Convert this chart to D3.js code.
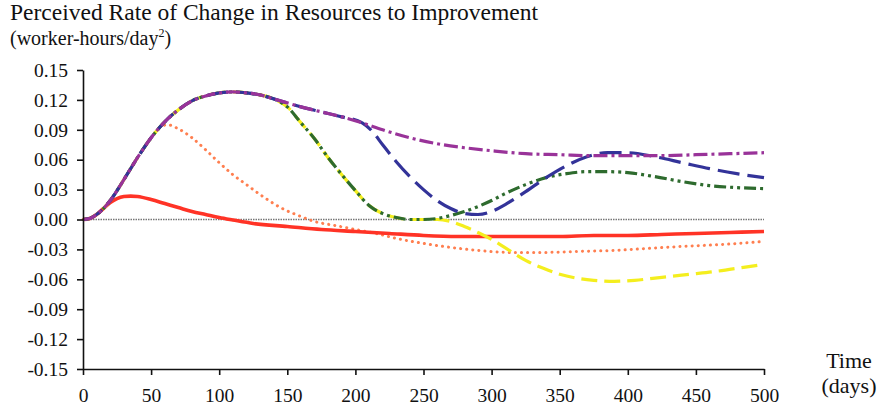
<!DOCTYPE html>
<html>
<head>
<meta charset="utf-8">
<script src="https://cdn.jsdelivr.net/npm/d3@7"></script>
<style>
  body { margin: 0; background: #fff; }
  svg text { font-family: "Liberation Serif", "DejaVu Serif", serif; fill: #111; }
</style>
</head>
<body>
<div id="chart"></div>
<script>
// tick labels
var xTicks = [0, 50, 100, 150, 200, 250, 300, 350, 400, 450, 500];
var yTicks = [0.15, 0.12, 0.09, 0.06, 0.03, 0.00, -0.03, -0.06, -0.09, -0.12, -0.15];

// shared rise, [day, value]
var rise = [[0,0],[5,0.001],[10,0.005],[15,0.011],[20,0.019],[25,0.029],[30,0.04],[40,0.062],
  [50,0.082],[60,0.098],[70,0.11],[80,0.119],[90,0.124],[100,0.127],[110,0.128],[120,0.127],
  [130,0.125],[140,0.121]];

var purpleTail = [[150,0.117],[160,0.113],[175,0.108],[190,0.103],[205,0.097],[220,0.09],
  [240,0.082],[260,0.076],[280,0.072],[300,0.069],[325,0.066],[350,0.065],[375,0.064],
  [400,0.064],[425,0.064],[450,0.065],[475,0.066],[500,0.067]];

var blueTail = [[150,0.117],[160,0.113],[175,0.108],[190,0.103],[205,0.097],[212,0.089],
  [220,0.075],[230,0.058],[240,0.043],[250,0.03],[260,0.019],[270,0.011],[280,0.006],
  [290,0.005],[300,0.008],[310,0.015],[325,0.028],[340,0.042],[355,0.054],[370,0.063],
  [385,0.067],[400,0.067],[420,0.063],[440,0.057],[460,0.051],[480,0.046],[500,0.042]];

var greenTail = [[150,0.113],[160,0.097],[170,0.081],[180,0.062],[190,0.045],[200,0.029],
  [210,0.014],[220,0.006],[230,0.002],[240,0.0],[250,0.0],[260,0.001],[270,0.004],
  [280,0.008],[290,0.013],[300,0.019],[310,0.026],[325,0.035],[340,0.042],[355,0.046],
  [370,0.048],[385,0.048],[400,0.047],[420,0.043],[440,0.038],[460,0.034],[480,0.032],
  [500,0.031]];

var yellowTail = [[150,0.113],[160,0.097],[170,0.081],[180,0.062],[190,0.045],[200,0.029],
  [210,0.014],[220,0.006],[230,0.002],[240,0.0],[250,0.0],[260,0.0],[270,-0.002],
  [280,-0.007],[290,-0.013],[300,-0.02],[313,-0.031],[325,-0.041],[338,-0.049],
  [350,-0.055],[363,-0.059],[375,-0.061],[390,-0.062],[405,-0.061],[425,-0.058],
  [445,-0.055],[465,-0.052],[485,-0.048],[500,-0.045]];

var orangeValues = [[0,0],[5,0.001],[10,0.005],[15,0.011],[20,0.019],[25,0.029],[30,0.04],
  [40,0.062],[50,0.082],[57,0.093],[62,0.095],[70,0.091],[80,0.082],[90,0.07],[100,0.057],
  [110,0.045],[120,0.035],[130,0.025],[145,0.012],[160,0.003],[170,-0.002],[185,-0.006],
  [200,-0.01],[215,-0.014],[230,-0.019],[250,-0.024],[270,-0.028],[290,-0.031],[313,-0.033],
  [340,-0.033],[365,-0.032],[390,-0.031],[415,-0.029],[440,-0.027],[470,-0.025],[500,-0.022]];

var redValues = [[0,0],[5,0.001],[10,0.005],[15,0.011],[20,0.017],[25,0.021],[30,0.023],
  [35,0.0235],[40,0.023],[50,0.02],[60,0.016],[70,0.012],[80,0.008],[90,0.005],[100,0.002],
  [110,-0.0005],[125,-0.004],[150,-0.007],[175,-0.01],[200,-0.012],[225,-0.014],[250,-0.016],
  [275,-0.017],[300,-0.017],[325,-0.017],[350,-0.017],[375,-0.016],[400,-0.016],[425,-0.015],
  [450,-0.014],[475,-0.013],[500,-0.012]];

var series = [
  {name: "orange", values: orangeValues, color: "#ff7f50", width: 3, dash: "0.1,6", cap: "round"},
  {name: "red", values: redValues, color: "#ff3326", width: 3.6, dash: null},
  {name: "yellow", values: rise.concat(yellowTail), color: "#f4ee1e", width: 3.2, dash: "16,7"},
  {name: "green", values: rise.concat(greenTail), color: "#2e6b2e", width: 3.2, dash: "12,4,3,4,3,4"},
  {name: "blue", values: rise.concat(blueTail), color: "#333399", width: 3.2, dash: "22,8"},
  {name: "purple", values: rise.concat(purpleTail), color: "#993399", width: 3.2, dash: "14,4,3,4"}
];

var width = 882, height = 410;
var margin = {left: 83, right: 118, top: 70, bottom: 41};
var serif = "'Liberation Serif', 'DejaVu Serif', serif";

var svg = d3.select("#chart").append("svg")
  .attr("width", width)
  .attr("height", height)
  .attr("font-family", serif);

var x = d3.scaleLinear().domain([0, 500]).range([margin.left, width - margin.right]);
var y = d3.scaleLinear().domain([-0.15, 0.15]).range([height - margin.bottom, margin.top]);

// zero reference line
svg.append("line")
  .attr("x1", x(0)).attr("x2", x(500))
  .attr("y1", y(0)).attr("y2", y(0))
  .attr("stroke", "#777")
  .attr("stroke-width", 1.3)
  .attr("stroke-dasharray", "1.5,1");

var line = d3.line()
  .x(function(d) { return x(d[0]); })
  .y(function(d) { return y(d[1]); })
  .curve(d3.curveMonotoneX);

svg.append("g").selectAll("path")
  .data(series)
  .enter()
  .append("path")
  .attr("d", function(d) { return line(d.values); })
  .attr("fill", "none")
  .attr("stroke", function(d) { return d.color; })
  .attr("stroke-width", function(d) { return d.width; })
  .attr("stroke-dasharray", function(d) { return d.dash; })
  .attr("stroke-linecap", function(d) { return d.cap || "butt"; });

var xAxis = d3.axisBottom(x)
  .tickValues(xTicks)
  .tickSizeInner(6)
  .tickSizeOuter(0)
  .tickPadding(13)
  .tickFormat(d3.format("d"));

var yAxis = d3.axisLeft(y)
  .tickValues(yTicks)
  .tickSizeInner(6)
  .tickSizeOuter(0)
  .tickPadding(9)
  .tickFormat(d3.format(".2f"));

var gx = svg.append("g")
  .attr("transform", "translate(0," + y(-0.15) + ")")
  .call(xAxis);

var gy = svg.append("g")
  .attr("transform", "translate(" + x(0) + ",0)")
  .call(yAxis);

[gx, gy].forEach(function(g) {
  g.attr("font-family", serif).attr("font-size", 19.5);
  g.selectAll("path, line").attr("stroke", "#111").attr("stroke-width", 1.6);
  g.selectAll("text").attr("fill", "#111");
});
gy.selectAll("text").text(function(d) { return d3.format(".2f")(d).replace("−", "-"); });

// titles
svg.append("text")
  .attr("x", 10).attr("y", 20)
  .attr("font-size", 23.5)
  .text("Perceived Rate of Change in Resources to Improvement");

var sub = svg.append("text")
  .attr("x", 10).attr("y", 45)
  .attr("font-size", 20);
sub.append("tspan").text("(worker-hours/day");
sub.append("tspan").attr("font-size", 12).attr("dy", -8).text("2");
sub.append("tspan").attr("dy", 8).text(")");

svg.append("text")
  .attr("x", 849).attr("y", 368)
  .attr("text-anchor", "middle")
  .attr("font-size", 22)
  .text("Time");

svg.append("text")
  .attr("x", 849).attr("y", 393)
  .attr("text-anchor", "middle")
  .attr("font-size", 22)
  .text("(days)");
</script>
</body>
</html>
